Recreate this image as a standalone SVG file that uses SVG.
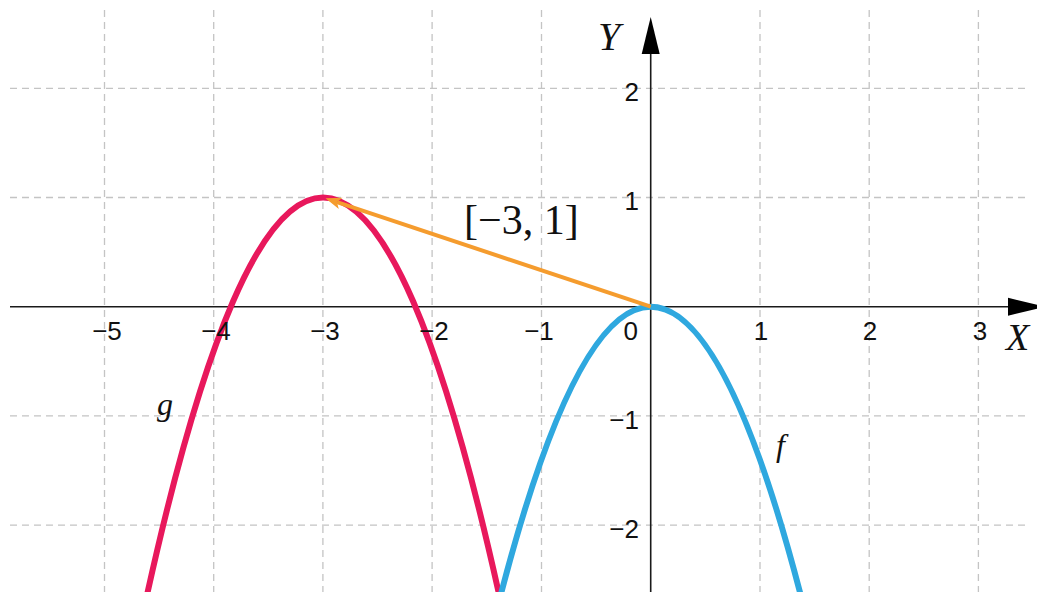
<svg xmlns="http://www.w3.org/2000/svg" width="1037" height="592" viewBox="0 0 1037 592">
<style>
.grid{stroke:#c4c4c4;stroke-width:1.3;stroke-dasharray:7 5;fill:none}
.axis{stroke:#1a1a1a;stroke-width:1.6;fill:none}
.num{font-family:"Liberation Sans",Arial,sans-serif;font-size:26px;fill:#111}
.it{font-family:"Liberation Serif","Times New Roman",serif;font-style:italic;fill:#111}
.tex{font-family:"Liberation Serif","Times New Roman",serif;fill:#111}
</style>
<rect width="1037" height="592" fill="#ffffff"/>
<g id="grid">
<line class="grid" x1="104.5" y1="10" x2="104.5" y2="592"/>
<line class="grid" x1="213.7" y1="10" x2="213.7" y2="592"/>
<line class="grid" x1="322.9" y1="10" x2="322.9" y2="592"/>
<line class="grid" x1="432.1" y1="10" x2="432.1" y2="592"/>
<line class="grid" x1="541.5" y1="10" x2="541.5" y2="592"/>
<line class="grid" x1="760" y1="10" x2="760" y2="592"/>
<line class="grid" x1="869.2" y1="10" x2="869.2" y2="592"/>
<line class="grid" x1="978.4" y1="10" x2="978.4" y2="592"/>
<line class="grid" x1="10" y1="88.3" x2="1030" y2="88.3"/>
<line class="grid" x1="10" y1="197.5" x2="1030" y2="197.5"/>
<line class="grid" x1="10" y1="415.9" x2="1030" y2="415.9"/>
<line class="grid" x1="10" y1="525.1" x2="1030" y2="525.1"/>
</g>
<g id="axes">
<line class="axis" x1="10" y1="306.7" x2="1012" y2="306.7"/>
<polygon points="1008,297.7 1045,306.7 1008,315.7" fill="#000"/>
<line class="axis" x1="650.7" y1="592" x2="650.7" y2="50"/>
<polygon points="641.7,54 650.7,17 659.7,54" fill="#000"/>
</g>
<g id="curve-g">
<path d="M142.9,613.7 Q323.1,-218.7 503.3,613.7" fill="none" stroke="#e8185c" stroke-width="6"/>
</g>
<g id="curve-f">
<path d="M495.6,615 Q650.7,-1.6 805.8,615" fill="none" stroke="#2fa8df" stroke-width="6"/>
</g>
<g id="connectors">
<line x1="650.7" y1="306.7" x2="337" y2="202.1" stroke="#f59c2e" stroke-width="4"/>
<polygon points="325.5,198.3 342.6,197.7 336.9,202.1 338.8,209.1" fill="#f59c2e"/>
</g>
<g id="x-labels">
<text class="num" x="107" y="340" text-anchor="middle">−5</text>
<text class="num" x="216" y="340" text-anchor="middle">−4</text>
<text class="num" x="325" y="340" text-anchor="middle">−3</text>
<text class="num" x="434" y="340" text-anchor="middle">−2</text>
<text class="num" x="539" y="340" text-anchor="middle">−1</text>
<text class="num" x="638" y="340" text-anchor="end">0</text>
<text class="num" x="761" y="340" text-anchor="middle">1</text>
<text class="num" x="870" y="340" text-anchor="middle">2</text>
<text class="num" x="980" y="340" text-anchor="middle">3</text>
</g>
<g id="y-labels">
<text class="num" x="639" y="101" text-anchor="end">2</text>
<text class="num" x="639" y="210" text-anchor="end">1</text>
<text class="num" x="639" y="429" text-anchor="end">−1</text>
<text class="num" x="639" y="538" text-anchor="end">−2</text>
</g>
<g id="axis-names">
<text class="it" x="598" y="50" font-size="40">Y</text>
<text class="it" x="1006" y="350" font-size="38">X</text>
</g>
<g id="label-vector">
<text class="tex" x="464" y="234" font-size="42">[−3, 1]</text>
</g>
<g id="label-g">
<text class="it" x="157" y="415" font-size="32">g</text>
</g>
<g id="label-f">
<text class="it" x="776" y="456" font-size="32">f</text>
</g>
</svg>
